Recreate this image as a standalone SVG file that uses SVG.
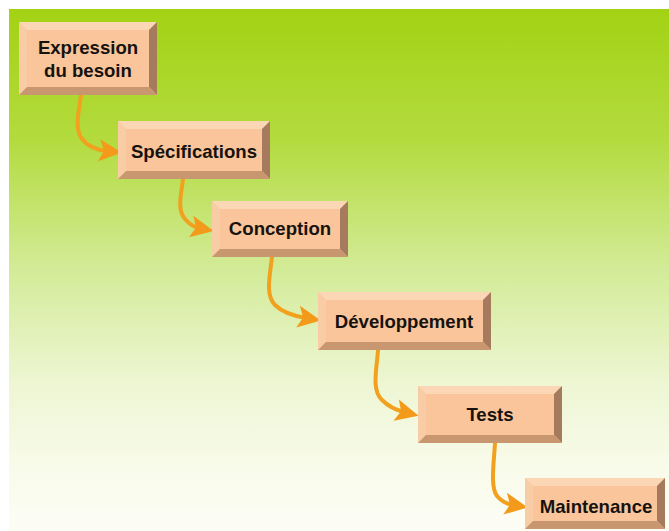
<svg xmlns="http://www.w3.org/2000/svg" width="669" height="531" viewBox="0 0 669 531">
  <defs>
    <linearGradient id="bg" x1="0" y1="0" x2="0" y2="1">
      <stop offset="0" stop-color="#a3d214"/>
      <stop offset="0.25" stop-color="#b3db3e"/>
      <stop offset="0.5" stop-color="#d3eb98"/>
      <stop offset="0.72" stop-color="#eef6d4"/>
      <stop offset="0.88" stop-color="#f8fbea"/>
      <stop offset="1" stop-color="#fdfdf6"/>
    </linearGradient>
    <marker id="head" markerUnits="userSpaceOnUse" markerWidth="30" markerHeight="30" viewBox="-10 -15 30 30" refX="0" refY="0" orient="auto" overflow="visible">
      <path d="M-8,-11 L15,0 L-8,11 L-3,0 Z" fill="#f39a1a"/>
    </marker>
    <style>
      .face { fill: #fac59a; }
      .top { fill: #fcd7b6; }
      .left { fill: #f8cda6; }
      .right { fill: #a67a5c; }
      .bottom { fill: #c8976f; }
      .lbl { font-family: "Liberation Sans", Arial, sans-serif; font-weight: bold; font-size: 18.6px; fill: #16130f; text-anchor: middle; }
      .arrow { fill: none; stroke: #f2a11e; stroke-width: 4; stroke-linecap: round; marker-end: url(#head); }
    </style>
  </defs>

  <rect x="0" y="0" width="669" height="531" fill="#ffffff"/>
  <rect x="9" y="9" width="660" height="522" fill="url(#bg)"/>

  <g id="connectors">
    <path class="arrow" d="M81,95 C79,112 74,128 82,139 C88,147 97,150 107,151"/>
    <path class="arrow" d="M183,179 C181,195 177,210 185,219 C190,225 194,227 199,228"/>
    <path class="arrow" d="M272,257 C270,275 265,295 275,305 C283,313 294,316 306,318"/>
    <path class="arrow" d="M378,350 C377,368 371,390 382,400 C389,407 396,410 404,412"/>
    <path class="arrow" d="M495,443 C494,462 490,487 497,496 C502,502 507,504 513,505"/>
  </g>

  <g id="expression">
    <rect class="face" x="19" y="22" width="138" height="73"/>
    <polygon class="top" points="19,22 157,22 149,30 27,30"/>
    <polygon class="left" points="19,22 27,30 27,87 19,95"/>
    <polygon class="right" points="157,22 157,95 149,87 149,30"/>
    <polygon class="bottom" points="19,95 157,95 149,87 27,87"/>
    <text class="lbl" x="88" y="54">Expression</text>
    <text class="lbl" x="88" y="77">du besoin</text>
  </g>

  <g id="specifications">
    <rect class="face" x="118" y="121" width="152" height="58"/>
    <polygon class="top" points="118,121 270,121 262,129 126,129"/>
    <polygon class="left" points="118,121 126,129 126,171 118,179"/>
    <polygon class="right" points="270,121 270,179 262,171 262,129"/>
    <polygon class="bottom" points="118,179 270,179 262,171 126,171"/>
    <text class="lbl" x="194" y="158">Spécifications</text>
  </g>

  <g id="conception">
    <rect class="face" x="212" y="201" width="136" height="56"/>
    <polygon class="top" points="212,201 348,201 340,209 220,209"/>
    <polygon class="left" points="212,201 220,209 220,249 212,257"/>
    <polygon class="right" points="348,201 348,257 340,249 340,209"/>
    <polygon class="bottom" points="212,257 348,257 340,249 220,249"/>
    <text class="lbl" x="280" y="235">Conception</text>
  </g>

  <g id="developpement">
    <rect class="face" x="318" y="292" width="173" height="58"/>
    <polygon class="top" points="318,292 491,292 483,300 326,300"/>
    <polygon class="left" points="318,292 326,300 326,342 318,350"/>
    <polygon class="right" points="491,292 491,350 483,342 483,300"/>
    <polygon class="bottom" points="318,350 491,350 483,342 326,342"/>
    <text class="lbl" x="404" y="328">Développement</text>
  </g>

  <g id="tests">
    <rect class="face" x="418" y="386" width="144" height="57"/>
    <polygon class="top" points="418,386 562,386 554,394 426,394"/>
    <polygon class="left" points="418,386 426,394 426,435 418,443"/>
    <polygon class="right" points="562,386 562,443 554,435 554,394"/>
    <polygon class="bottom" points="418,443 562,443 554,435 426,435"/>
    <text class="lbl" x="490" y="421">Tests</text>
  </g>

  <g id="maintenance">
    <rect class="face" x="525" y="478" width="140" height="51"/>
    <polygon class="top" points="525,478 665,478 657,486 533,486"/>
    <polygon class="left" points="525,478 533,486 533,521 525,529"/>
    <polygon class="right" points="665,478 665,529 657,521 657,486"/>
    <polygon class="bottom" points="525,529 665,529 657,521 533,521"/>
    <text class="lbl" x="596" y="513">Maintenance</text>
  </g>
</svg>
